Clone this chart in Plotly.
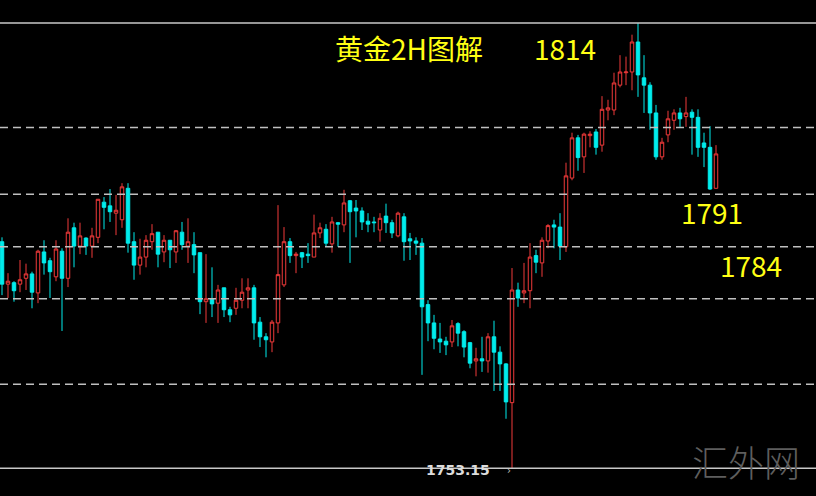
import plotly.graph_objects as go

# ---- data (2H gold candles) ----
opens = [1784.1, 1778.3, 1778.5, 1778.3, 1779.1, 1779.7, 1777.1, 1782.7, 1781.5, 1779.3,
         1782.8, 1779.1, 1786.0, 1783.5, 1784.6, 1783.5, 1784.7, 1789.5, 1789.0, 1788.0,
         1787.1, 1791.4, 1784.1, 1780.9, 1782.0, 1784.1, 1785.4, 1782.7, 1784.3, 1782.7,
         1785.4, 1783.5, 1783.7, 1782.6, 1775.9, 1776.3, 1775.7, 1777.8, 1774.8, 1775.0,
         1776.1, 1777.5, 1777.8, 1773.1, 1771.1, 1770.4, 1773.0, 1778.2, 1784.1, 1782.2,
         1782.6, 1782.4, 1782.0, 1785.3, 1785.8, 1783.8, 1786.7, 1786.4, 1789.7, 1788.7,
         1788.3, 1786.9, 1786.8, 1785.7, 1787.6, 1786.7, 1784.9, 1787.5, 1784.5, 1784.2,
         1783.9, 1775.5, 1773.0, 1770.8, 1770.5, 1770.4, 1772.9, 1771.8, 1770.3, 1767.8,
         1768.1, 1767.8, 1771.1, 1769.0, 1767.4, 1762.1, 1777.5, 1777.1, 1777.4, 1782.2,
         1781.2, 1784.2, 1786.4, 1786.1, 1783.4, 1792.8, 1798.3, 1795.7, 1798.6, 1799.1,
         1797.3, 1802.1, 1802.1, 1805.5, 1807.2, 1807.3, 1811.4, 1806.5, 1805.5, 1801.7,
         1795.7, 1798.7, 1800.7, 1801.7, 1801.2, 1801.8, 1801.1, 1797.6, 1797.0, 1791.4]

highs = [1784.7, 1779.8, 1778.7, 1781.6, 1781.1, 1780.0, 1783.0, 1784.3, 1781.9, 1784.3,
         1783.2, 1787.3, 1786.7, 1786.7, 1784.7, 1786.0, 1789.9, 1790.2, 1791.3, 1790.5,
         1792.1, 1792.1, 1785.4, 1784.5, 1785.0, 1786.5, 1785.4, 1785.0, 1784.3, 1785.7,
         1786.8, 1787.3, 1785.4, 1782.6, 1782.4, 1780.6, 1778.2, 1777.8, 1775.2, 1777.8,
         1779.1, 1779.1, 1778.2, 1773.8, 1771.6, 1773.4, 1789.1, 1786.1, 1784.6, 1782.7,
         1782.7, 1783.9, 1787.8, 1786.7, 1786.5, 1787.5, 1786.8, 1791.2, 1789.8, 1789.8,
         1788.8, 1788.0, 1787.5, 1788.0, 1789.3, 1787.1, 1788.2, 1788.0, 1785.3, 1784.7,
         1784.6, 1776.1, 1774.1, 1773.0, 1771.1, 1773.4, 1773.1, 1772.0, 1770.4, 1769.6,
         1771.1, 1771.6, 1773.3, 1769.8, 1767.5, 1780.5, 1778.5, 1781.2, 1783.9, 1783.0,
         1784.7, 1786.5, 1787.1, 1788.0, 1794.9, 1799.0, 1798.7, 1799.0, 1799.2, 1799.5,
         1804.0, 1803.5, 1807.2, 1809.6, 1809.4, 1812.4, 1814.0, 1809.6, 1805.9, 1802.8,
         1798.3, 1802.0, 1802.2, 1802.4, 1803.9, 1802.2, 1802.2, 1799.0, 1799.9, 1797.3]

lows = [1776.8, 1776.4, 1775.9, 1777.2, 1777.5, 1775.0, 1775.7, 1779.6, 1776.4, 1778.7,
        1771.9, 1777.9, 1780.6, 1782.4, 1782.3, 1781.9, 1783.9, 1785.8, 1786.8, 1785.0,
        1786.0, 1782.6, 1778.9, 1779.6, 1780.6, 1783.0, 1780.6, 1781.3, 1780.5, 1781.2,
        1783.0, 1781.2, 1779.8, 1774.2, 1773.0, 1773.8, 1773.0, 1773.8, 1773.1, 1774.1,
        1775.0, 1775.0, 1770.7, 1769.7, 1768.3, 1769.0, 1771.6, 1777.9, 1781.2, 1779.8,
        1780.5, 1781.2, 1782.0, 1784.6, 1783.4, 1782.6, 1783.4, 1785.4, 1781.2, 1784.7,
        1785.7, 1785.4, 1785.4, 1784.1, 1785.3, 1784.6, 1784.7, 1781.5, 1781.6, 1782.3,
        1765.9, 1770.5, 1769.4, 1768.9, 1768.6, 1769.7, 1769.8, 1768.3, 1766.8, 1765.7,
        1766.3, 1766.2, 1763.7, 1763.7, 1759.9, 1753.15, 1775.2, 1775.7, 1775.0, 1779.8,
        1779.3, 1783.2, 1783.2, 1781.6, 1782.7, 1792.5, 1793.8, 1793.5, 1797.0, 1796.0,
        1796.4, 1800.7, 1801.4, 1805.2, 1805.5, 1804.8, 1803.9, 1801.7, 1799.4, 1795.3,
        1795.3, 1797.7, 1799.4, 1799.8, 1799.8, 1796.0, 1795.7, 1794.3, 1791.2, 1791.4]

closes = [1778.3, 1778.7, 1777.4, 1778.9, 1779.7, 1777.2, 1782.8, 1781.2, 1780.0, 1783.1,
          1779.1, 1785.4, 1783.5, 1784.9, 1783.5, 1784.9, 1789.9, 1788.8, 1788.2, 1788.4,
          1791.6, 1783.9, 1780.9, 1782.0, 1784.3, 1785.2, 1782.4, 1784.3, 1783.0, 1785.6,
          1783.7, 1784.1, 1782.3, 1775.9, 1776.3, 1775.6, 1777.5, 1774.8, 1774.1, 1776.1,
          1777.2, 1777.8, 1773.0, 1771.1, 1770.7, 1773.1, 1779.6, 1784.1, 1782.2, 1782.4,
          1782.0, 1782.2, 1785.3, 1786.0, 1783.9, 1786.8, 1786.5, 1789.4, 1788.2, 1788.3,
          1786.8, 1786.5, 1786.7, 1787.3, 1786.7, 1785.3, 1788.0, 1784.1, 1784.2, 1783.9,
          1775.2, 1773.0, 1770.9, 1770.4, 1770.0, 1772.6, 1771.6, 1769.7, 1767.5, 1768.1,
          1767.8, 1771.1, 1769.0, 1767.4, 1762.2, 1777.5, 1776.4, 1777.4, 1782.0, 1781.3,
          1784.3, 1786.3, 1786.1, 1783.5, 1793.1, 1798.3, 1795.6, 1798.8, 1798.8, 1797.0,
          1802.2, 1802.4, 1805.8, 1807.3, 1807.3, 1811.4, 1806.9, 1805.5, 1801.7, 1795.7,
          1797.7, 1800.9, 1801.7, 1800.9, 1801.7, 1801.1, 1797.0, 1797.0, 1791.3, 1796.1]

bar_index = list(range(len(opens)))

dashed_levels = [1799.7, 1790.6, 1783.4, 1776.3, 1764.6]
high_level = 1814.0
low_level = 1753.15

title_text = "黄金2H图解"
level_labels = ["1814", "1791", "1784"]
low_label = "1753.15"
watermark = "汇外网"

RED = "#f03a3a"
CYAN = "#00ecec"
YELLOW = "#ffff14"
CJK = "Noto Sans CJK SC"

fig = go.Figure()
fig.add_trace(go.Candlestick(
    x=bar_index, open=opens, high=highs, low=lows, close=closes,
    increasing=dict(line=dict(color=RED, width=1), fillcolor="#000000"),
    decreasing=dict(line=dict(color=CYAN, width=1), fillcolor=CYAN),
    whiskerwidth=0, hoverinfo="skip", showlegend=False,
))

shapes = []
for lv in dashed_levels:
    shapes.append(dict(type="line", xref="paper", x0=0, x1=1, yref="y", y0=lv, y1=lv,
                       line=dict(color="#c0c0c0", width=1.5, dash="8px,5px")))
for lv in (high_level, low_level):
    shapes.append(dict(type="line", xref="paper", x0=0, x1=1, yref="y", y0=lv, y1=lv,
                       line=dict(color="#c8c8c8", width=1.5)))

W, H = 816, 496

def px(xp):
    return xp / W

def py(yp):
    return 1 - yp / H

annotations = [
    dict(text=title_text, x=px(409), y=py(48), font=dict(family=CJK, size=28, color=YELLOW)),
    dict(text=level_labels[0], x=px(565), y=py(48), font=dict(family=CJK, size=28, color=YELLOW)),
    dict(text=level_labels[1], x=px(712), y=py(212), font=dict(family=CJK, size=28, color=YELLOW)),
    dict(text=level_labels[2], x=px(751), y=py(265), font=dict(family=CJK, size=28, color=YELLOW)),
    dict(text=low_label, x=px(458), y=py(470),
         font=dict(family="DejaVu Sans", size=14, color="#dcdcdc", weight="bold")),
    dict(text="›", x=px(509), y=py(470), font=dict(family="DejaVu Sans", size=10, color="#bbbbbb")),
    dict(text=watermark, x=px(746), y=py(461), font=dict(family=CJK, size=36, color="#5e5e5e", weight=300)),
]
for a in annotations:
    a.update(xref="paper", yref="paper", showarrow=False, xanchor="center", yanchor="middle")

fig.update_layout(
    width=W, height=H,
    margin=dict(l=0, r=0, t=0, b=0),
    paper_bgcolor="#000000", plot_bgcolor="#000000",
    boxgap=0.42, boxgroupgap=0,
    xaxis=dict(range=[-0.333, 135.667], visible=False, rangeslider=dict(visible=False),
               showgrid=False, zeroline=False),
    yaxis=dict(range=[1749.34, 1817.14], visible=False, showgrid=False, zeroline=False),
    shapes=shapes, annotations=annotations,
    showlegend=False, hovermode=False,
)

fig.write_html(
    "out.html",
    config={"displayModeBar": False},
    post_script="document.body.style.margin='0';document.body.style.background='#000';"
                "document.body.style.overflow='hidden';",
)
